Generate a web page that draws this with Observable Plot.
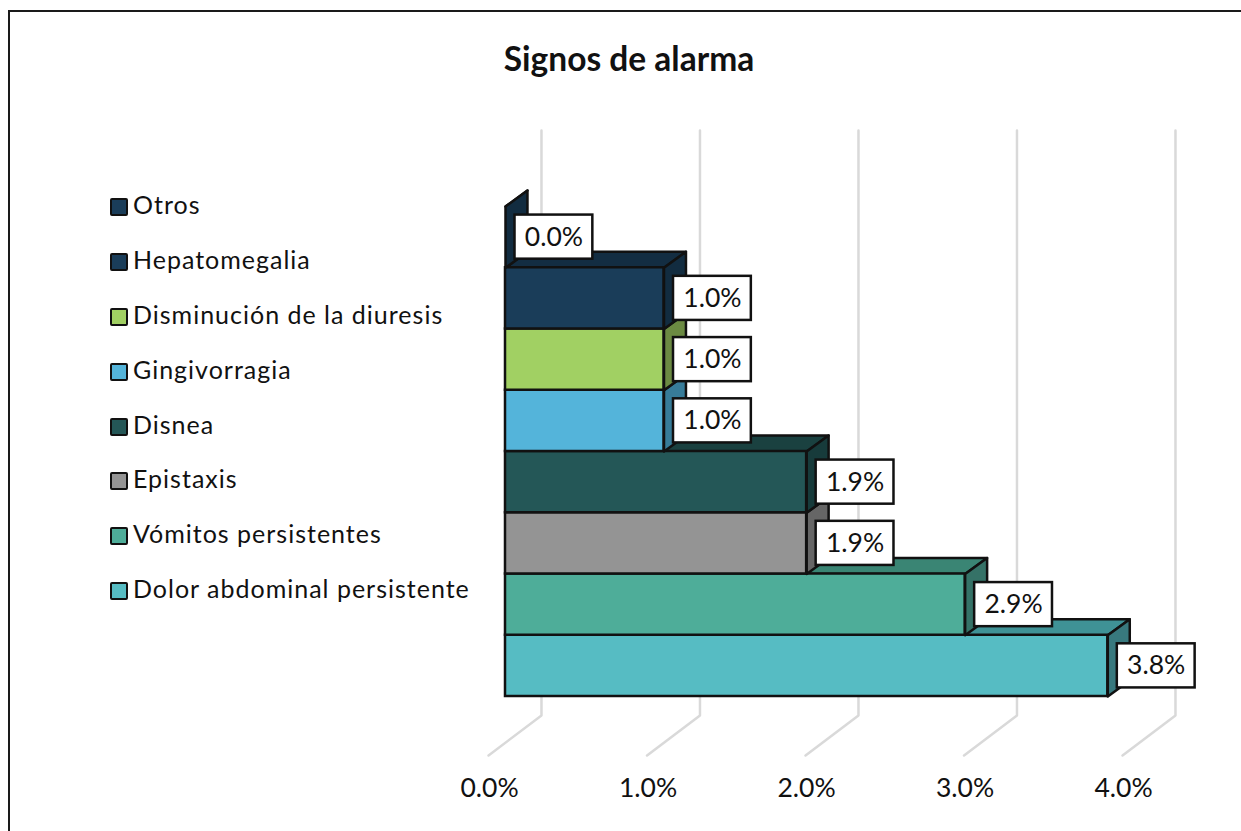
<!DOCTYPE html>
<html lang="es">
<head>
<meta charset="utf-8">
<script src="https://cdn.jsdelivr.net/npm/d3@7"></script>
<script src="https://cdn.jsdelivr.net/npm/@observablehq/plot@0.6"></script>
<style>
  html, body { margin: 0; padding: 0; background: #fff; overflow: hidden; }
  #page { position: relative; width: 1241px; height: 831px; overflow: hidden; font-family: Lato, sans-serif; color: #111; }
  #frame { position: absolute; left: 8px; top: 10px; width: 1300px; height: 900px; border-left: 2.5px solid #1a1a1a; border-top: 2px solid #1a1a1a; }
  #title { position: absolute; left: 0; top: 39px; width: 1258px; text-align: center; font-size: 33.5px; font-weight: 700; line-height: 38px; }
  #chart svg { position: absolute; left: 0; top: 0; background: none; }
  #legend { position: absolute; left: 110px; top: 180px; }
  .item { display: flex; align-items: center; height: 54.8px; font-size: 25px; letter-spacing: 1px; white-space: nowrap; }
  .swatch { width: 14px; height: 14px; border: 2.5px solid #111; border-radius: 2px; margin-right: 5px; flex: none; position: relative; top: 0; }
  .item span { position: relative; top: -3px; }
</style>
</head>
<body>
<div id="page">
  <div id="frame"></div>
  <div id="title">Signos de alarma</div>
  <div id="chart"></div>
  <div id="legend"></div>
</div>
<script>
// Data, listed from the bottom bar to the top bar
const categories = ["Dolor abdominal persistente", "Vómitos persistentes", "Epistaxis", "Disnea", "Gingivorragia", "Disminución de la diuresis", "Hepatomegalia", "Otros"];
const values = [3.8, 2.9, 1.9, 1.9, 1.0, 1.0, 1.0, 0.0];
const frontColors = ["#56bcc3", "#4ead99", "#949494", "#245757", "#54b4da", "#a1d063", "#1a3d59", "#1a3d59"];
const topColors = ["#3f9296", "#3a8574", "#6e6e6e", "#1a4140", "#3d85a3", "#78994a", "#132d42", "#132d42"];
const sideColors = ["#38797e", "#357267", "#666666", "#173b3b", "#377c99", "#6b8a42", "#122c40", "#122c40"];
const xTicks = [0, 1, 2, 3, 4];

// Projection of the 3-D depth, in axis units
const barDepthX = 0.1386, barDepthY = 0.261;
const wallDepthX = 0.227, wallTop = 9.24, wallBottom = -0.31;
const floorX = -0.107, floorY = -0.963;
const labelGap = 0.06, labelWidth = 0.491, labelPad = 0.14;
const ink = "#111";

const fmt = d => d.toFixed(1) + "%";
const rows = categories.map((name, i) => ({name, i, value: values[i], front: frontColors[i], top: topColors[i], side: sideColors[i]}));

const gridMarks = xTicks.map(t => Plot.line(
  [[t + wallDepthX, wallTop], [t + wallDepthX, wallBottom], [t + floorX, floorY]],
  {stroke: "#d9d9d9", strokeWidth: 2.5, strokeLinejoin: "miter"}
));

const barMarks = rows.flatMap(r => {
  const v = r.value, y0 = r.i, y1 = r.i + 1;
  const face = {strokeWidth: 2.5, stroke: ink, strokeLinejoin: "round", curve: "linear"};
  return [
    Plot.line([[0, y1], [barDepthX, y1 + barDepthY], [v + barDepthX, y1 + barDepthY], [v, y1], [0, y1]], {...face, fill: r.top}),
    Plot.line([[v, y0], [v + barDepthX, y0 + barDepthY], [v + barDepthX, y1 + barDepthY], [v, y1], [v, y0]], {...face, fill: r.side}),
    Plot.rect([r], {x1: 0, x2: d => d.value, y1: y0, y2: y1, fill: r.front, stroke: ink, strokeWidth: 2.5})
  ];
});

const labelMarks = [
  Plot.rect(rows, {
    x1: d => d.value + labelGap, x2: d => d.value + labelGap + labelWidth,
    y1: d => d.i + labelPad, y2: d => d.i + 1 - labelPad,
    fill: "#fff", stroke: ink, strokeWidth: 2.5
  }),
  Plot.text(rows, {
    x: d => d.value + labelGap + labelWidth / 2, y: d => d.i + 0.5,
    text: d => fmt(d.value), fill: "#111", fontSize: 26.5, fontFamily: "Lato, sans-serif"
  })
];

const chart = Plot.plot({
  width: 1241,
  height: 831,
  marginLeft: 0, marginRight: 0, marginTop: 0, marginBottom: 53,
  style: {background: "none", fontFamily: "Lato, sans-serif"},
  x: {domain: [0, 4], range: [505, 1139]},
  y: {domain: [0, 8], range: [696, 206], axis: null},
  marks: [
    ...gridMarks,
    ...barMarks,
    ...labelMarks,
    Plot.axisX({ticks: xTicks, tickFormat: fmt, tickSize: 0, tickPadding: 0, dx: -16, fontSize: 26.5, label: null, fill: "#111", lineAnchor: "top"})
  ]
});
document.getElementById("chart").appendChild(chart);

// Legend reads from the top bar downward
const legend = d3.select("#legend");
rows.slice().reverse().forEach(r => {
  const item = legend.append("div").attr("class", "item");
  item.append("div").attr("class", "swatch").style("background", r.front);
  item.append("span").text(r.name);
});
</script>
</body>
</html>
